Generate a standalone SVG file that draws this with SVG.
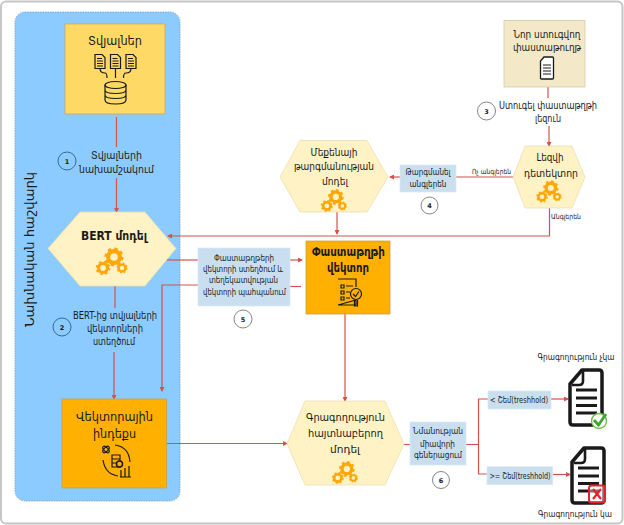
<svg xmlns="http://www.w3.org/2000/svg" xmlns:xlink="http://www.w3.org/1999/xlink" width="624" height="525" viewBox="0 0 624 525">
<style>
text{font-family:"DejaVu Sans","Noto Sans",sans-serif;fill:#1a1a1a;text-anchor:middle}
.hex{fill:#fff2c4;stroke:#e8dcae;stroke-width:.7}
.blue{fill:#c9dff0;stroke:#dbe8f3;stroke-width:.7}
.c{fill:#ffb000;stroke:#c9a04a;stroke-width:.8}
.wire{fill:none;stroke:#d2524c;stroke-width:1.2}
.ci{fill:#fff;stroke:#777;stroke-width:.9}
.cp{fill:none;stroke:#2f5f88;stroke-width:.9}
.n{font-size:6.5px;font-weight:bold}
.ic{fill:none;stroke:#1a1a1a;stroke-width:1.2}
.l{font-size:9px}
.m{font-size:10.500px}
.h{font-size:11px}
.t{font-size:13px}
</style>
<defs>
<marker id="a" markerWidth="5" markerHeight="5" refX="4" refY="2.500" orient="auto" markerUnits="userSpaceOnUse"><path d="M0,0L5,2.500L0,5Z" fill="#d2524c"/></marker>
<g id="gear"><circle r="6.200" fill="none" stroke="#ffa708" stroke-width="4.400"/><circle r="8.800" fill="none" stroke="#ffa708" stroke-width="2.600" stroke-dasharray="3.45 3.46"/></g>
<g id="gears"><use xlink:href="#gear" transform="translate(1,-5) scale(.95)"/><use xlink:href="#gear" transform="translate(-10,6) scale(.72)"/><use xlink:href="#gear" transform="translate(9,6) scale(.55)"/></g>
<g id="sdoc"><path class="ic" d="M0,0H7L10,3V14H0Z"/><path class="ic" stroke-width=".9" d="M2,4H7M2,6.500H8M2,9H8M2,11.500H8"/></g>
<g id="bigdoc"><path d="M14,2H31Q34,2 34,5V54Q34,57 31,57H5Q2,57 2,54V16Z" fill="#fff" stroke="#1a1a1a" stroke-width="3.500" stroke-linejoin="round"/><path d="M4,17H11Q15,17 15,13V3" fill="none" stroke="#1a1a1a" stroke-width="2.600"/><path d="M8,22H29M8,30H29M8,37.500H29M8,45H29" stroke="#1a1a1a" stroke-width="3" fill="none"/></g>
</defs>
<rect width="624" height="525" fill="#fff"/>
<rect x="1" y="1.500" width="621.500" height="522" rx="5" fill="#fff" stroke="#c6c6c6" stroke-width="2"/>

<g id="panel">
<rect x="15" y="12" width="165" height="489" rx="10" fill="#8ccbff" stroke="#7f9fb8" stroke-width=".8" stroke-dasharray="1.500 1"/>
<text transform="translate(34,249.500) rotate(-90)" font-size="13" textLength="155" lengthAdjust="spacingAndGlyphs">Նախնական հաշվարկ</text>
</g>

<g id="connectors">
<path class="wire" d="M116.500,117V147"/>
<path class="wire" marker-end="url(#a)" d="M116.500,178V212"/>
<path class="wire" d="M115,286V308"/>
<path class="wire" marker-end="url(#a)" d="M114,352V399"/>
<path class="wire" marker-end="url(#a)" d="M167,443.500H287"/>
<path class="wire" d="M167,260H198"/>
<path class="wire" marker-end="url(#a)" d="M290,260H302"/>
<path class="wire" marker-end="url(#a)" d="M198,285H162V391"/>
<path class="wire" d="M290,286.500H301"/>
<path class="wire" marker-end="url(#a)" d="M345,314V401"/>
<path class="wire" d="M404,444.500H411"/>
<path class="wire" d="M466,444.500H478.500"/>
<path class="wire" d="M488,399H478.500V474H487"/>
<path class="wire" marker-end="url(#a)" d="M551,399H568"/>
<path class="wire" marker-end="url(#a)" d="M553,474.500H570"/>
<path class="wire" d="M548,87V98"/>
<path class="wire" marker-end="url(#a)" d="M549,126V146"/>
<path class="wire" d="M513,177H456"/>
<path class="wire" marker-end="url(#a)" d="M400,177H390"/>
<path class="wire" marker-end="url(#a)" d="M337,212V234"/>
<path class="wire" marker-end="url(#a)" d="M549.500,208V236H168"/>
</g>

<g id="n-data">
<rect x="65" y="24" width="100" height="90" fill="#ffd966" stroke="#c9a94f" stroke-width=".8"/>
<text class="t" x="115" y="45" textLength="54" lengthAdjust="spacingAndGlyphs">Տվյալներ</text>
<use xlink:href="#sdoc" x="95" y="54.500"/><use xlink:href="#sdoc" x="110.500" y="54.500"/><use xlink:href="#sdoc" x="126" y="54.500"/>
<path class="ic" d="M100,68.500Q100,73 105,73Q107,73 107,78M115.500,68.500V78M131,68.500Q131,73 126,73Q123.500,73 123.500,78"/>
<ellipse class="ic" cx="115.500" cy="85" rx="10.500" ry="3.500"/>
<path class="ic" d="M105,85V100Q105,104 115.500,104Q126,104 126,100V85M105,90Q105,93.500 115.500,93.500Q126,93.500 126,90M105,95Q105,98.500 115.500,98.500Q126,98.500 126,95"/>
</g>

<g id="n-step1">
<text class="h" x="116.500" y="159" textLength="51" lengthAdjust="spacingAndGlyphs">Տվյալների</text>
<text class="h" x="116.500" y="173" textLength="75" lengthAdjust="spacingAndGlyphs">նախամշակում</text>
<circle class="cp" cx="67" cy="161" r="9"/><text class="n" x="67" y="163.500">1</text>
</g>

<g id="n-bert">
<polygon class="hex" points="80,212 145,212 176,248.500 145,286 80,286 48,248.500"/>
<text x="114" y="240" font-size="12" font-weight="bold" textLength="66" lengthAdjust="spacingAndGlyphs">BERT մոդել</text>
<use xlink:href="#gears" transform="translate(113,262)"/>
</g>

<g id="n-step2">
<text class="h" x="115" y="319" textLength="84" lengthAdjust="spacingAndGlyphs">BERT-ից տվյալների</text>
<text class="h" x="115" y="332" textLength="56" lengthAdjust="spacingAndGlyphs">վեկտորների</text>
<text class="h" x="114" y="345" textLength="42" lengthAdjust="spacingAndGlyphs">ստեղծում</text>
<circle class="cp" cx="62" cy="327" r="9"/><text class="n" x="62" y="329.500">2</text>
</g>

<g id="n-index">
<rect class="c" x="62" y="399" width="104.500" height="89"/>
<text class="t" x="114.500" y="421" textLength="77" lengthAdjust="spacingAndGlyphs">Վեկտորային</text>
<text class="t" x="114.500" y="438" textLength="43" lengthAdjust="spacingAndGlyphs">ինդեքս</text>
<ellipse class="ic" cx="106" cy="449.500" rx="4" ry="2" transform="rotate(45 106 449.500)"/><ellipse class="ic" cx="106" cy="449.500" rx="4" ry="2" transform="rotate(-45 106 449.500)"/>
<path class="ic" d="M112,455H120V467H112ZM112,459H120M112,463H120"/>
<circle cx="119.500" cy="464" r="3" fill="#ffb000" stroke="#1a1a1a" stroke-width="1.500"/>
<path class="ic" d="M121,470V477M125,468V477M129,466V477M120,477H131"/>
<path class="ic" d="M115,445Q129,447 130,462M103,460Q105,474 118,476"/>
</g>

<g id="n-step5">
<rect class="blue" x="198" y="248" width="92" height="58"/>
<text class="l" x="244" y="261" textLength="60" lengthAdjust="spacingAndGlyphs">Փաստաթղթերի</text>
<text class="l" x="243" y="272" textLength="80" lengthAdjust="spacingAndGlyphs">վեկտորի ստեղծում և</text>
<text class="l" x="243.500" y="283" textLength="69" lengthAdjust="spacingAndGlyphs">տեղեկատվության</text>
<text class="l" x="244.500" y="294.500" textLength="83" lengthAdjust="spacingAndGlyphs">վեկտորի պահպանում</text>
<circle class="ci" cx="243" cy="319" r="9"/><text class="n" x="243" y="321.500">5</text>
</g>

<g id="n-docvector">
<rect class="c" x="306" y="241" width="84" height="73"/>
<text x="348.500" y="256" font-size="12" font-weight="bold" textLength="73" lengthAdjust="spacingAndGlyphs">Փաստաթղթի</text>
<text x="348" y="272" font-size="12" font-weight="bold" textLength="42" lengthAdjust="spacingAndGlyphs">վեկտոր</text>
<path class="ic" d="M338,279H356V287M356,300V305H338ZM341,285H344V288H341ZM341,291H344V294H341ZM341,297H344V300H341ZM346,286H353M346,292H350M346,298H350"/>
<circle class="ic" cx="356" cy="294" r="5.500"/>
<path class="ic" d="M353,294L355.500,296.500L359,291.500M354.500,300V306H357.500V300"/>
</g>

<g id="n-plag">
<polygon class="hex" points="305,401 385,401 404,444 385,485 305,485 287,444"/>
<text class="h" x="345.500" y="421" textLength="79" lengthAdjust="spacingAndGlyphs">Գրագողություն</text>
<text class="h" x="345.500" y="437" textLength="75" lengthAdjust="spacingAndGlyphs">հայտնաբերող</text>
<text class="h" x="345" y="453" textLength="30" lengthAdjust="spacingAndGlyphs">մոդել</text>
<use xlink:href="#gears" transform="translate(346,473) scale(.82)"/>
</g>

<g id="n-step6">
<rect class="blue" x="410" y="422" width="56" height="43"/>
<text class="l" x="438" y="434" textLength="50" lengthAdjust="spacingAndGlyphs">Նմանության</text>
<text class="l" x="437.500" y="446.500" textLength="35" lengthAdjust="spacingAndGlyphs">միավորի</text>
<text class="l" x="438" y="458" textLength="48" lengthAdjust="spacingAndGlyphs">գեներացում</text>
<circle class="ci" cx="441" cy="480" r="8.500"/><text class="n" x="441" y="482.500">6</text>
</g>

<g id="n-lt">
<rect class="blue" x="488" y="391" width="63" height="18"/>
<text x="519" y="403" font-size="8.500" textLength="58" lengthAdjust="spacingAndGlyphs">&lt; Շեմ(treshhold)</text>
</g>
<g id="n-ge">
<rect class="blue" x="487" y="466.700" width="65.700" height="18"/>
<text x="520" y="478.500" font-size="8.500" textLength="61" lengthAdjust="spacingAndGlyphs">&gt;= Շեմ(treshhold)</text>
</g>

<g id="n-noplag">
<text x="576" y="360" font-size="8" textLength="77" lengthAdjust="spacingAndGlyphs">Գրագողություն չկա</text>
<use xlink:href="#bigdoc" x="568" y="368"/>
<circle cx="599" cy="421" r="7.500" fill="#fff" stroke="#6cbb4a" stroke-width="1.400"/>
<path d="M594,420L598.500,425L606,414" fill="none" stroke="#3fa535" stroke-width="2.800"/>
</g>
<g id="n-yesplag">
<use xlink:href="#bigdoc" x="570" y="446"/>
<rect x="589" y="485.500" width="16" height="17" rx="2.500" fill="#fff" fill-opacity=".4" stroke="#e8202a" stroke-width="2"/>
<path d="M593,489L601,499M601,489L593,499" stroke="#e8202a" stroke-width="2.200"/>
<text x="575" y="517" font-size="8" textLength="74" lengthAdjust="spacingAndGlyphs">Գրագողություն կա</text>
</g>

<g id="n-newdoc">
<rect x="504" y="20.500" width="81" height="66.500" fill="#f3e9c8" stroke="#d4cba8" stroke-width=".8"/>
<text class="h" x="547" y="38" textLength="67" lengthAdjust="spacingAndGlyphs">Նոր ստուգվող</text>
<text class="h" x="547" y="51" textLength="68" lengthAdjust="spacingAndGlyphs">փաստաթուղթ</text>
<path d="M544,57H552.500Q553.500,57 553.500,58V78Q553.500,79 552.500,79H541.500Q540.500,79 540.500,78V61Z" fill="#fff" stroke="#1a1a1a" stroke-width="1.300"/>
<path class="ic" d="M543,65H551M543,68H551M543,71H551M543,74H551"/>
</g>

<g id="n-step3">
<text class="m" x="548" y="109" textLength="98" lengthAdjust="spacingAndGlyphs">Ստուգել փաստաթղթի</text>
<text class="m" x="548" y="122" textLength="26" lengthAdjust="spacingAndGlyphs">լեզուն</text>
<circle class="ci" cx="486.500" cy="111" r="9"/><text class="n" x="486.500" y="113.500">3</text>
</g>

<g id="n-lang">
<polygon class="hex" points="525,146 572,146 585,177 572,208 525,208 513,177"/>
<text class="h" x="550" y="161" textLength="27" lengthAdjust="spacingAndGlyphs">Լեզվի</text>
<text class="h" x="551" y="177" textLength="54" lengthAdjust="spacingAndGlyphs">դետեկտոր</text>
<use xlink:href="#gears" transform="translate(550,192) scale(.8)"/>
<text x="551" y="219" font-size="7" style="text-anchor:start" textLength="30" lengthAdjust="spacingAndGlyphs">Անգլերեն</text>
</g>

<g id="n-step4">
<text x="491.500" y="174" font-size="7" textLength="39" lengthAdjust="spacingAndGlyphs">Ոչ անգլերեն</text>
<rect class="blue" x="400" y="165" width="56" height="27"/>
<text class="l" x="428" y="175" textLength="45" lengthAdjust="spacingAndGlyphs">Թարգմանել</text>
<text class="l" x="428" y="187" textLength="37" lengthAdjust="spacingAndGlyphs">անգլերեն</text>
<circle class="ci" cx="429.500" cy="205.500" r="8.500"/><text class="n" x="429.500" y="208">4</text>
</g>

<g id="n-mt">
<polygon class="hex" points="300,140.500 367,140.500 388,177 367,212 300,212 280,177"/>
<text class="h" x="334" y="156" textLength="47" lengthAdjust="spacingAndGlyphs">Մեքենայի</text>
<text class="h" x="334" y="170" textLength="80" lengthAdjust="spacingAndGlyphs">թարգմանության</text>
<text class="h" x="335" y="185" textLength="26" lengthAdjust="spacingAndGlyphs">մոդել</text>
<use xlink:href="#gears" transform="translate(335,201) scale(.82)"/>
</g>
</svg>
